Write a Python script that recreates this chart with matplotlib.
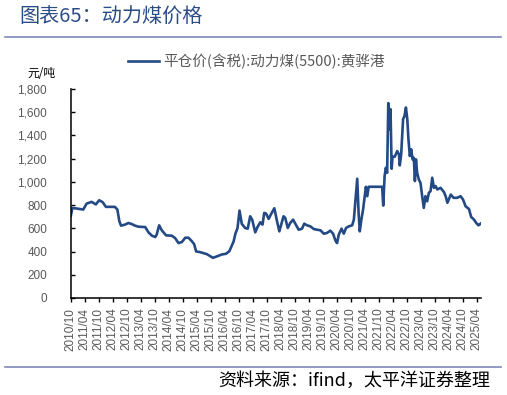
import matplotlib
matplotlib.use("Agg")
import matplotlib.pyplot as plt
import matplotlib.dates as mdates
import matplotlib.ticker as mticker
import pandas as pd

plt.rcParams['font.family'] = ['Noto Sans CJK SC', 'DejaVu Sans']

LINE = "#234a85"
TITLE = "#2b4c86"
RULE = "#8287b8"
GREY = "#595959"

# 平仓价(含税):动力煤(5500):黄骅港, 元/吨
dates = [
    "2010-10-04", "2010-10-23", "2011-03-14", "2011-04-27", "2011-07-01", "2011-08-25",
    "2011-10-08", "2011-11-21", "2012-01-04", "2012-04-29", "2012-06-01", "2012-06-27",
    "2012-07-19", "2012-09-08", "2012-10-22", "2012-12-04", "2013-01-18", "2013-03-03",
    "2013-05-30", "2013-07-12", "2013-08-25", "2013-10-08", "2013-10-26", "2013-11-28",
    "2014-01-01", "2014-02-27", "2014-05-11", "2014-06-24", "2014-08-07", "2014-09-20",
    "2014-11-03", "2014-12-16", "2015-01-29", "2015-02-27", "2015-03-25", "2015-05-15",
    "2015-08-11", "2015-10-30", "2015-12-20", "2016-02-24", "2016-04-19", "2016-06-01",
    "2016-07-26", "2016-08-17", "2016-09-15", "2016-10-11", "2016-11-09", "2016-12-23",
    "2017-01-26", "2017-02-27", "2017-03-25", "2017-05-04", "2017-06-02", "2017-07-09",
    "2017-08-07", "2017-08-29", "2017-09-23", "2017-10-26", "2017-11-25", "2018-01-08",
    "2018-02-13", "2018-03-14", "2018-05-08", "2018-05-30", "2018-07-02", "2018-08-03",
    "2018-09-09", "2018-10-08", "2018-11-21", "2019-01-04", "2019-02-02", "2019-03-10",
    "2019-04-23", "2019-06-06", "2019-07-20", "2019-09-02", "2019-10-15", "2019-11-25",
    "2020-01-08", "2020-02-13", "2020-03-14", "2020-04-05", "2020-04-27", "2020-06-02",
    "2020-07-02", "2020-07-31", "2020-09-05", "2020-10-19", "2020-11-10", "2020-12-02",
    "2020-12-24", "2021-01-11", "2021-01-26", "2021-02-16", "2021-03-10", "2021-04-01",
    "2021-04-16", "2021-05-04", "2021-05-22", "2021-11-14", "2021-11-28", "2021-12-16",
    "2022-01-01", "2022-01-18", "2022-02-02", "2022-02-13", "2022-03-03", "2022-03-18",
    "2022-03-29", "2022-04-27", "2022-05-30", "2022-06-21", "2022-07-02", "2022-07-20",
    "2022-08-14", "2022-09-02", "2022-09-20", "2022-10-08", "2022-10-23", "2022-11-10",
    "2022-11-28", "2022-12-16", "2023-01-01", "2023-01-15", "2023-01-29", "2023-02-13",
    "2023-03-07", "2023-03-29", "2023-04-20", "2023-05-11", "2023-06-02", "2023-06-24",
    "2023-07-16", "2023-08-07", "2023-08-29", "2023-09-20", "2023-10-12", "2023-11-03",
    "2023-12-16", "2024-01-29", "2024-02-20", "2024-03-14", "2024-04-27", "2024-06-02",
    "2024-07-20", "2024-09-02", "2024-10-04", "2024-11-06", "2024-12-20", "2025-01-18",
    "2025-02-24", "2025-03-25", "2025-04-23", "2025-05-08", "2025-05-20",
]
price = [
    710, 776, 762, 813, 828, 806,
    842, 826, 785, 785, 762, 660,
    623, 632, 646, 637, 623, 614,
    611, 565, 537, 525, 545, 626,
    583, 539, 537, 516, 473, 482,
    519, 519, 488, 464, 401, 395,
    378, 346, 358, 375, 381, 404,
    487, 551, 603, 753, 640, 603,
    597, 704, 675, 565, 611, 652,
    632, 733, 727, 681, 721, 773,
    658, 574, 704, 690, 603, 646,
    675, 640, 588, 597, 640, 626,
    617, 594, 588, 583, 554, 560,
    580, 554, 496, 473, 545, 597,
    554, 603, 617, 626, 675, 848,
    1027, 730, 574, 675, 761, 877,
    958, 877, 958, 958, 796, 1050,
    1122, 1079, 1679, 1454, 1627, 1113,
    1217, 1217, 1266, 1237, 1142, 1237,
    1540, 1569, 1641, 1540, 1367, 1223,
    1281, 1194, 1208, 1007, 1194, 1079,
    1021, 992, 877, 776, 877, 833,
    906, 920, 1036, 949, 964, 935,
    949, 912, 877, 820, 891, 863,
    863, 877, 848, 790, 767, 698,
    675, 646, 626, 633, 640,
]
x_start, x_end = "2010-10-01", "2025-05-22"
y_ticks = [0, 200, 400, 600, 800, 1000, 1200, 1400, 1600, 1800]

series_name = "平仓价(含税):动力煤(5500):黄骅港"
title = "图表65：动力煤价格"
unit = "元/吨"
source = "资料来源：ifind，太平洋证券整理"

d = pd.to_datetime(dates)

fig = plt.figure(figsize=(5.07, 3.95), dpi=100)
ax = fig.add_axes([0.1394, 0.2456, 0.8087, 0.529])
ax.plot(d, price, color=LINE, lw=1.9, label=series_name)

ax.set_xlim(pd.Timestamp(x_start), pd.Timestamp(x_end))
ax.set_ylim(0, 1800)
ax.set_yticks(y_ticks)
ax.yaxis.set_major_formatter(mticker.FuncFormatter(lambda v, p: f"{int(v):,}"))
ax.xaxis.set_major_locator(mdates.MonthLocator(bymonth=[4, 10]))
ax.xaxis.set_major_formatter(mdates.DateFormatter("%Y/%m"))

for s in ["top", "right"]:
    ax.spines[s].set_visible(False)
for s in ["left", "bottom"]:
    ax.spines[s].set_linewidth(1.1)
ax.tick_params(axis="y", direction="in", length=3, width=1, labelsize=8.5,
               labelcolor=GREY, pad=17)
ax.tick_params(axis="x", direction="out", length=3, width=1, labelsize=8.5,
               labelcolor=GREY, rotation=90, pad=4)
for lab in ax.get_xticklabels() + ax.get_yticklabels():
    lab.set_family(["Liberation Sans", "DejaVu Sans"])

leg = ax.legend(loc="center left", bbox_to_anchor=(128 / 507, 1 - 61 / 395),
                bbox_transform=fig.transFigure, frameon=False, fontsize=10.5,
                handlelength=2.1, handletextpad=0.3, borderpad=0, borderaxespad=0)
for t in leg.get_texts():
    t.set_color(GREY)

fig.text(0.038, 0.955, title, fontsize=14.5, color=TITLE, va="center", ha="left")
fig.add_artist(plt.Line2D([0.01, 0.988], [0.906, 0.906], color=RULE, lw=1.2))
fig.add_artist(plt.Line2D([0.01, 0.988], [0.07, 0.07], color=RULE, lw=1.2))
fig.text(0.082, 0.815, unit, fontsize=8.5, color="black", ha="center", va="center")
fig.text(0.967, 0.035, source, fontsize=13, color="black", ha="right", va="center",
         style="italic")

fig.savefig("out.png", dpi=100)
